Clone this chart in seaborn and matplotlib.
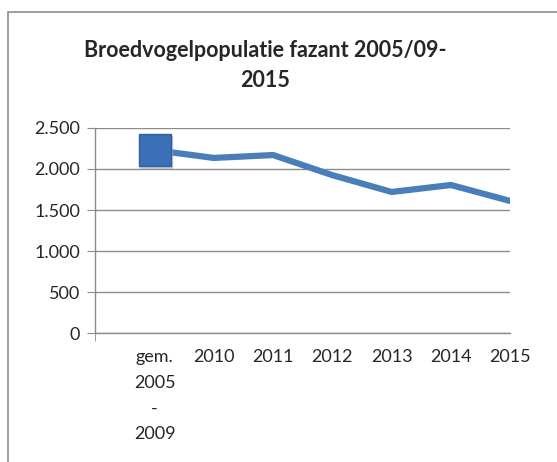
import pandas as pd
import numpy as np
import seaborn as sns
import matplotlib.pyplot as plt
from matplotlib.patches import Rectangle
from matplotlib.ticker import FuncFormatter

# data
categories = ["gem.\n2005\n-\n2009", "2010", "2011", "2012", "2013", "2014", "2015"]
populatie = [2230, 2135, 2170, 1925, 1720, 1805, 1610]

df = pd.DataFrame({"jaar": categories, "populatie": populatie})
df["pos"] = np.arange(len(categories))

sns.set_style("white")
plt.rcParams['font.family'] = ['Lato', 'DejaVu Sans']

fig = plt.figure(figsize=(5.57, 4.62), dpi=100)
ax = fig.add_axes([0.171, 0.279, 0.745, 0.444])

# outer chart border
fig.patches.append(Rectangle((0.014, -0.1), 1.2, 1.074, transform=fig.transFigure,
                             fill=False, edgecolor="#8c8c8c", linewidth=1.2))

grey = "#8c8c8c"
line_col = "#4a7ebb"

sns.lineplot(data=df, x="pos", y="populatie", ax=ax, color=line_col,
             linewidth=4.5, solid_joinstyle="round")

# big square marker on the first point only (with soft shadow)
first = df.iloc[:1]
ax.plot(first["pos"] + 0.03, first["populatie"] - 25, marker="s", markersize=23,
        color="#b0b0b0", alpha=0.5, linestyle="none", zorder=4)
ax.plot(first["pos"], first["populatie"], marker="s", markersize=23,
        markerfacecolor="#3b70b9", markeredgecolor="#2f5f9e", markeredgewidth=1,
        linestyle="none", zorder=5)

ax.set_xlim(-1, len(categories) - 1)
ax.set_ylim(0, 2500)
ax.set_yticks([0, 500, 1000, 1500, 2000, 2500])
ax.yaxis.set_major_formatter(FuncFormatter(lambda v, p: f"{v:,.0f}".replace(",", ".")))

ax.set_xticks(df["pos"])
ax.set_xticklabels(categories)
ax.set_xticks(np.arange(-1, len(categories)), minor=True)

ax.grid(axis="y", color=grey, linewidth=1)
ax.set_axisbelow(True)
for s in ["top", "right"]:
    ax.spines[s].set_visible(False)
for s in ["left", "bottom"]:
    ax.spines[s].set_color(grey)
    ax.spines[s].set_linewidth(1)

ax.tick_params(axis="y", left=True, length=6, color=grey, labelsize=13, pad=5)
ax.tick_params(axis="x", which="major", bottom=False, labelsize=13, pad=8)
ax.tick_params(axis="x", which="minor", bottom=True, length=6, color=grey)
for t in ax.get_xticklabels():
    t.set_linespacing(1.75)
    t.set_verticalalignment("top")

ax.set_xlabel("")
ax.set_ylabel("")

fig.text(0.476, 0.858, "Broedvogelpopulatie fazant 2005/09-\n2015", ha="center", va="center",
         fontsize=15.5, fontweight="bold", linespacing=1.55)

fig.savefig("out.png", dpi=100)
